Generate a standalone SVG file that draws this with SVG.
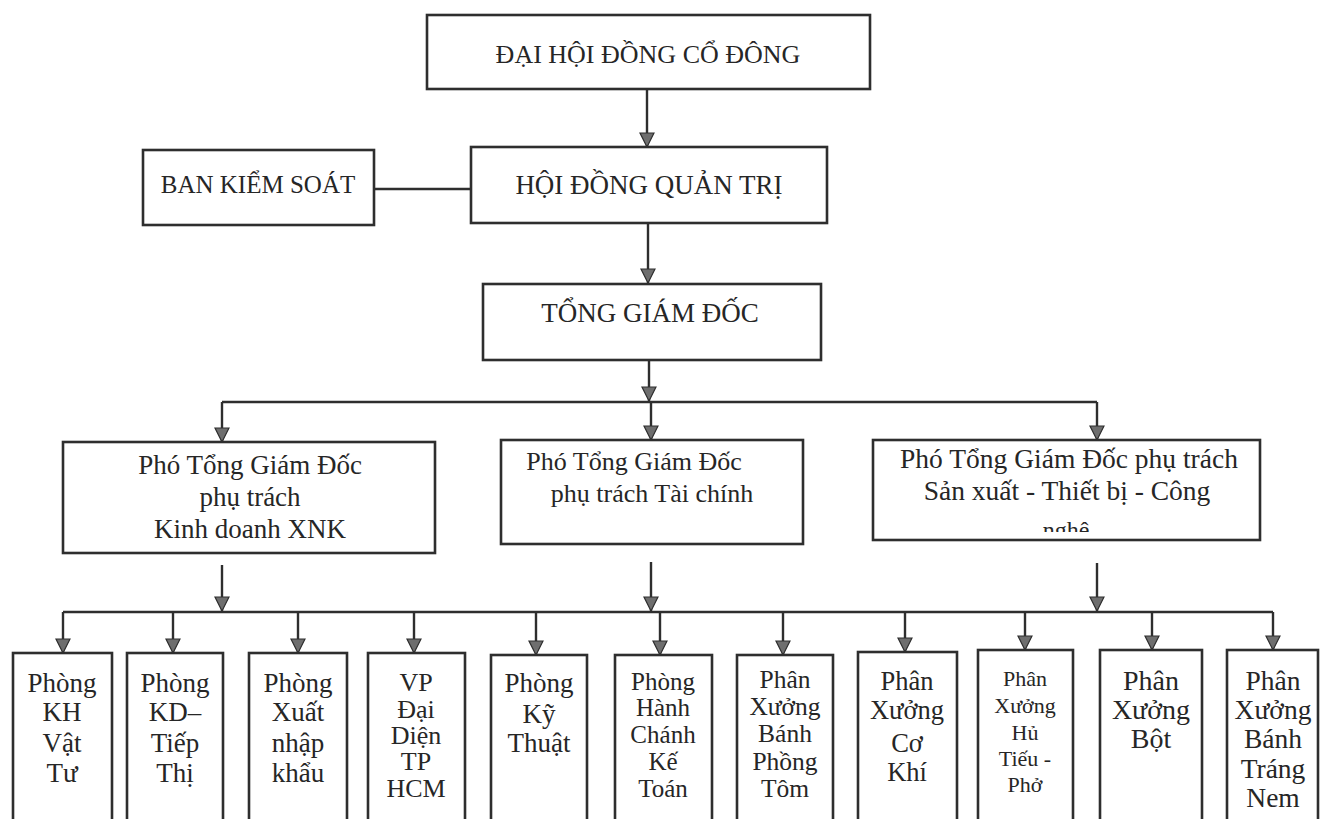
<svg xmlns="http://www.w3.org/2000/svg" width="1321" height="819" viewBox="0 0 1321 819">
<style>
.box{fill:#fff;stroke:#2e2e2e;stroke-width:2.6}
.ln{fill:none;stroke:#2e2e2e;stroke-width:2.4}
.t{font-family:'Liberation Serif','Times New Roman',Tinos,'DejaVu Serif',serif;fill:#262626;text-anchor:middle}
</style>
<defs>
<marker id="ah" markerWidth="16" markerHeight="16" viewBox="-1 -8 16 16" refX="14" refY="0" orient="auto" markerUnits="userSpaceOnUse">
<path d="M0,-7 L14,0 L0,7 z" fill="#6e6e6e" stroke="#2e2e2e" stroke-width="1.2"/>
</marker>
<clipPath id="clip3"><rect x="873" y="440" width="387" height="92"/></clipPath>
</defs>
<rect width="1321" height="819" fill="#fff"/>

<g id="connectors">
<line class="ln" x1="647" y1="89" x2="647" y2="147" marker-end="url(#ah)"/>
<line class="ln" x1="374" y1="189" x2="471" y2="189"/>
<line class="ln" x1="648" y1="223" x2="648" y2="283" marker-end="url(#ah)"/>
<line class="ln" x1="649" y1="360" x2="649" y2="401" marker-end="url(#ah)"/>
<line class="ln" x1="222" y1="402" x2="1097" y2="402"/>
<line class="ln" x1="222" y1="402" x2="222" y2="442" marker-end="url(#ah)"/>
<line class="ln" x1="651" y1="402" x2="651" y2="440" marker-end="url(#ah)"/>
<line class="ln" x1="1097" y1="402" x2="1097" y2="440" marker-end="url(#ah)"/>
<line class="ln" x1="222" y1="565" x2="222" y2="611" marker-end="url(#ah)"/>
<line class="ln" x1="651" y1="562" x2="651" y2="611" marker-end="url(#ah)"/>
<line class="ln" x1="1097" y1="563" x2="1097" y2="611" marker-end="url(#ah)"/>
<line class="ln" x1="63" y1="612" x2="1273" y2="612"/>
<line class="ln" x1="63" y1="612" x2="63" y2="653" marker-end="url(#ah)"/>
<line class="ln" x1="173" y1="612" x2="173" y2="653" marker-end="url(#ah)"/>
<line class="ln" x1="298" y1="612" x2="298" y2="653" marker-end="url(#ah)"/>
<line class="ln" x1="414" y1="612" x2="414" y2="653" marker-end="url(#ah)"/>
<line class="ln" x1="536" y1="612" x2="536" y2="655" marker-end="url(#ah)"/>
<line class="ln" x1="660" y1="612" x2="660" y2="655" marker-end="url(#ah)"/>
<line class="ln" x1="783" y1="612" x2="783" y2="655" marker-end="url(#ah)"/>
<line class="ln" x1="905" y1="612" x2="905" y2="652" marker-end="url(#ah)"/>
<line class="ln" x1="1025" y1="612" x2="1025" y2="650" marker-end="url(#ah)"/>
<line class="ln" x1="1152" y1="612" x2="1152" y2="650" marker-end="url(#ah)"/>
<line class="ln" x1="1273" y1="612" x2="1273" y2="650" marker-end="url(#ah)"/>
</g>

<g id="dhdcd"><rect class="box" x="427" y="15" width="443" height="74"/>
<text class="t" x="648" y="63" font-size="26">ĐẠI HỘI ĐỒNG CỔ ĐÔNG</text></g>

<g id="bks"><rect class="box" x="143" y="150" width="231" height="75"/>
<text class="t" x="258" y="193" font-size="25">BAN KIỂM SOÁT</text></g>

<g id="hdqt"><rect class="box" x="471" y="147" width="356" height="76"/>
<text class="t" x="649" y="194" font-size="27">HỘI ĐỒNG QUẢN TRỊ</text></g>

<g id="tgd"><rect class="box" x="483" y="284" width="338" height="76"/>
<text class="t" x="650" y="322" font-size="27">TỔNG GIÁM ĐỐC</text></g>

<g id="ptgd1"><rect class="box" x="63" y="442" width="372" height="111"/>
<text class="t" x="250" y="474" font-size="27">Phó Tổng Giám Đốc</text>
<text class="t" x="250" y="506" font-size="27">phụ trách</text>
<text class="t" x="250" y="538" font-size="27">Kinh doanh XNK</text></g>

<g id="ptgd2"><rect class="box" x="501" y="440" width="302" height="104"/>
<text class="t" x="634" y="470" font-size="26">Phó Tổng Giám Đốc</text>
<text class="t" x="652" y="502" font-size="26">phụ trách Tài chính</text></g>

<g id="ptgd3"><rect class="box" x="873" y="440" width="387" height="100"/>
<text class="t" x="1069" y="468" font-size="27.5">Phó Tổng Giám Đốc phụ trách</text>
<text class="t" x="1067" y="500" font-size="27.5">Sản xuất - Thiết bị - Công</text>
<text class="t" x="1066" y="538" font-size="24" clip-path="url(#clip3)">nghệ</text></g>

<g id="p1"><rect class="box" x="13" y="653" width="99" height="190"/>
<text class="t" x="62" y="692" font-size="27">Phòng</text>
<text class="t" x="62" y="721" font-size="27">KH</text>
<text class="t" x="62" y="752" font-size="27">Vật</text>
<text class="t" x="62" y="782" font-size="27">Tư</text></g>

<g id="p2"><rect class="box" x="127" y="653" width="96" height="190"/>
<text class="t" x="175" y="692" font-size="27">Phòng</text>
<text class="t" x="175" y="721" font-size="27">KD–</text>
<text class="t" x="175" y="752" font-size="27">Tiếp</text>
<text class="t" x="175" y="782" font-size="27">Thị</text></g>

<g id="p3"><rect class="box" x="249" y="653" width="98" height="190"/>
<text class="t" x="298" y="692" font-size="27">Phòng</text>
<text class="t" x="298" y="721" font-size="27">Xuất</text>
<text class="t" x="298" y="752" font-size="27">nhập</text>
<text class="t" x="298" y="782" font-size="27">khẩu</text></g>

<g id="p4"><rect class="box" x="368" y="653" width="97" height="190"/>
<text class="t" x="416" y="691" font-size="26">VP</text>
<text class="t" x="416" y="718" font-size="26">Đại</text>
<text class="t" x="416" y="744" font-size="26">Diện</text>
<text class="t" x="416" y="770" font-size="26">TP</text>
<text class="t" x="416" y="797" font-size="26">HCM</text></g>

<g id="p5"><rect class="box" x="491" y="655" width="96" height="190"/>
<text class="t" x="539" y="692" font-size="27">Phòng</text>
<text class="t" x="539" y="723" font-size="27">Kỹ</text>
<text class="t" x="539" y="752" font-size="27">Thuật</text></g>

<g id="p6"><rect class="box" x="615" y="655" width="97" height="190"/>
<text class="t" x="663" y="690" font-size="25">Phòng</text>
<text class="t" x="663" y="716" font-size="25">Hành</text>
<text class="t" x="663" y="743" font-size="25">Chánh</text>
<text class="t" x="663" y="770" font-size="25">Kế</text>
<text class="t" x="663" y="797" font-size="25">Toán</text></g>

<g id="p7"><rect class="box" x="737" y="655" width="96" height="190"/>
<text class="t" x="785" y="688" font-size="25.5">Phân</text>
<text class="t" x="785" y="715" font-size="25.5">Xưởng</text>
<text class="t" x="785" y="742" font-size="25.5">Bánh</text>
<text class="t" x="785" y="770" font-size="25.5">Phồng</text>
<text class="t" x="785" y="797" font-size="25.5">Tôm</text></g>

<g id="p8"><rect class="box" x="858" y="652" width="99" height="190"/>
<text class="t" x="907" y="690" font-size="26.5">Phân</text>
<text class="t" x="907" y="719" font-size="26.5">Xưởng</text>
<text class="t" x="907" y="752" font-size="26.5">Cơ</text>
<text class="t" x="907" y="781" font-size="26.5">Khí</text></g>

<g id="p9"><rect class="box" x="978" y="650" width="95" height="190"/>
<text class="t" x="1025" y="686" font-size="22">Phân</text>
<text class="t" x="1025" y="713" font-size="22">Xưởng</text>
<text class="t" x="1025" y="740" font-size="22">Hủ</text>
<text class="t" x="1025" y="766" font-size="22">Tiếu -</text>
<text class="t" x="1025" y="792" font-size="22">Phở</text></g>

<g id="p10"><rect class="box" x="1100" y="650" width="102" height="190"/>
<text class="t" x="1151" y="690" font-size="28">Phân</text>
<text class="t" x="1151" y="719" font-size="28">Xưởng</text>
<text class="t" x="1151" y="748" font-size="28">Bột</text></g>

<g id="p11"><rect class="box" x="1227" y="650" width="91" height="190"/>
<text class="t" x="1273" y="690" font-size="27.5">Phân</text>
<text class="t" x="1273" y="719" font-size="27.5">Xưởng</text>
<text class="t" x="1273" y="748" font-size="27.5">Bánh</text>
<text class="t" x="1273" y="778" font-size="27.5">Tráng</text>
<text class="t" x="1273" y="807" font-size="27.5">Nem</text></g>
</svg>
